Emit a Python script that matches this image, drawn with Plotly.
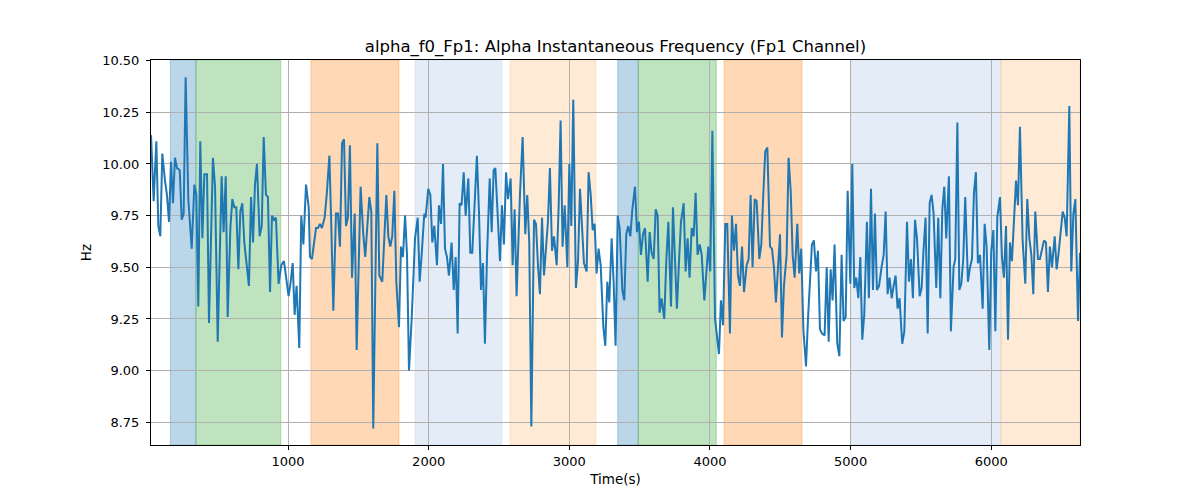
import plotly.graph_objects as go

time_s = [25.7, 44.6, 63.6, 77.8, 92, 106, 125, 139, 154, 168, 182, 196, 211, 230, 244, 258, 272, 291, 315, 334,
          348, 362, 376, 391, 405, 424, 438, 466, 481, 500, 528, 542, 557, 571, 590, 604, 618, 632, 647, 661,
          675, 689, 722, 737, 751, 765, 779, 798, 813, 827,
          843, 857, 872, 886, 900, 914, 933, 952, 971, 990, 1004, 1019, 1033, 1047, 1061, 1080, 1094, 1109, 1128, 1147,
          1156, 1170, 1199, 1213, 1227, 1241, 1260, 1275, 1294, 1308, 1322, 1341, 1355, 1369, 1384, 1398, 1412, 1426, 1440, 1455,
          1474, 1488, 1516, 1535, 1549, 1578, 1592, 1606, 1635, 1649,
          1670, 1699, 1713, 1727, 1741, 1756, 1770, 1789, 1803, 1817, 1832, 1846, 1860, 1879, 1903, 1922, 1936, 1950, 1969, 1978,
          1997, 2012, 2026, 2040, 2059, 2073, 2088, 2102, 2116, 2130, 2144, 2163, 2178, 2192, 2206, 2220, 2234, 2249, 2263, 2282,
          2296, 2310, 2325, 2343, 2358, 2372, 2386, 2400, 2415, 2434, 2448, 2462,
          2474, 2488, 2507, 2521, 2535, 2550, 2564, 2583, 2597, 2611, 2625, 2649, 2668, 2687, 2701, 2715, 2730, 2749, 2763, 2777,
          2791, 2806, 2820, 2834, 2848, 2862, 2877, 2891, 2910, 2924, 2938, 2952, 2967, 2986, 3000, 3014, 3028, 3047, 3062, 3076,
          3090, 3104, 3123, 3137, 3152, 3166, 3180, 3194, 3208, 3223, 3242, 3256, 3270, 3284,
          3301, 3315, 3329, 3344, 3358, 3377, 3391, 3405, 3419, 3434, 3448, 3467, 3481, 3495, 3509, 3524, 3538, 3557, 3571, 3585,
          3600, 3614, 3628, 3642, 3656, 3675, 3690, 3704, 3723, 3737, 3751, 3765, 3780, 3794, 3813, 3827, 3841, 3855, 3870, 3884,
          3898, 3912, 3927, 3941, 3960, 3974, 3988, 4002, 4017, 4036, 4050, 4064, 4078, 4093,
          4109, 4123, 4142, 4156, 4171, 4185, 4199, 4213, 4228, 4242, 4261, 4275, 4289, 4303, 4318, 4332, 4351, 4365, 4379, 4393,
          4408, 4427, 4441, 4455, 4469, 4483, 4498, 4512, 4526, 4545, 4559, 4574, 4588, 4602, 4621, 4635, 4649, 4664, 4683, 4697,
          4711, 4725, 4739, 4754, 4768, 4782, 4796, 4815, 4830, 4844, 4858, 4872, 4886, 4905, 4920,
          4936, 4950, 4965, 4979, 4998, 5012, 5026, 5040, 5055, 5069, 5083, 5097, 5116, 5130, 5145, 5159, 5173, 5187, 5202, 5220,
          5235, 5249, 5263, 5277, 5292, 5306, 5320, 5334, 5348, 5367, 5382, 5401, 5415, 5429, 5443, 5458, 5472, 5491, 5505, 5519,
          5533, 5548, 5562, 5576, 5590, 5609, 5623, 5638, 5652, 5666, 5680, 5699, 5713, 5732,
          5744, 5759, 5773, 5787, 5801, 5815, 5834, 5849, 5863, 5877, 5891, 5905, 5920, 5939, 5953, 5967, 5986, 6000, 6015, 6029,
          6043, 6062, 6076, 6090, 6105, 6119, 6133, 6147, 6161, 6176, 6190, 6204, 6223, 6242, 6256, 6271, 6285, 6299, 6313, 6332,
          6346, 6361, 6375, 6389, 6403, 6417, 6432, 6451, 6465, 6479, 6493, 6508, 6522, 6536, 6555, 6569, 6584, 6598, 6617, 6631]

freq_hz = [10.14, 9.82, 10.11, 9.70, 9.65, 10.05, 9.92, 9.85, 9.72, 10.01, 9.81, 10.03, 9.98, 9.97, 9.73, 9.76, 10.42, 9.83, 9.59, 9.90,
           9.85, 9.31, 10.11, 9.64, 9.95, 9.95, 9.23, 10.03, 9.89, 9.14, 9.94, 9.67, 9.94, 9.26, 9.69, 9.83, 9.79, 9.79, 9.49, 9.77,
           9.81, 9.62, 9.41, 9.84, 9.62, 9.90, 10.00, 9.65, 9.70, 10.13,
           9.85, 9.84, 9.38, 9.75, 9.73, 9.74, 9.42, 9.51, 9.53, 9.42, 9.36, 9.43, 9.52, 9.27, 9.41, 9.11, 9.75, 9.61, 9.90, 9.79,
           9.55, 9.54, 9.69, 9.69, 9.71, 9.69, 9.74, 9.85, 10.04, 9.69, 9.29, 9.76, 9.76, 9.60, 10.10, 10.12, 9.70, 9.74, 10.09, 9.45,
           9.76, 9.10, 9.89, 9.66, 9.55, 9.84, 9.77, 8.72, 10.10, 9.46,
           9.43, 9.85, 9.65, 9.60, 9.65, 9.87, 9.43, 9.21, 9.60, 9.55, 9.75, 9.56, 9.00, 9.25, 9.64, 9.74, 9.43, 9.56, 9.76, 9.74,
           9.88, 9.85, 9.62, 9.70, 9.51, 9.80, 9.71, 10.00, 9.59, 9.55, 9.46, 9.62, 9.39, 9.55, 9.18, 9.81, 9.80, 9.96, 9.75, 9.93,
           9.57, 9.57, 9.82, 10.04, 9.76, 9.39, 9.52, 9.13, 9.56, 9.93, 9.67, 9.97,
           9.98, 9.78, 9.53, 9.80, 9.61, 9.96, 9.83, 9.93, 9.51, 9.78, 9.36, 9.85, 10.13, 9.66, 9.85, 9.62, 8.73, 9.73, 9.71, 9.51,
           9.37, 9.74, 9.46, 9.59, 9.72, 9.98, 9.58, 9.65, 9.51, 9.79, 10.21, 9.60, 9.80, 9.50, 10.00, 9.70, 10.31, 9.40, 9.53, 9.88,
           9.67, 9.52, 9.48, 9.96, 9.85, 9.68, 9.71, 9.47, 9.59, 9.51, 9.21, 9.12, 9.43, 9.33,
           9.64, 9.43, 9.12, 9.75, 9.69, 9.39, 9.34, 9.66, 9.70, 9.65, 9.78, 9.89, 9.67, 9.72, 9.56, 9.66, 9.69, 9.43, 9.67, 9.57,
           9.54, 9.78, 9.75, 9.28, 9.35, 9.25, 9.54, 9.72, 9.31, 9.79, 9.54, 9.30, 9.53, 9.72, 9.81, 9.48, 9.64, 9.45, 9.69, 9.65,
           9.86, 9.56, 9.61, 9.56, 9.34, 9.49, 9.60, 9.48, 10.16, 9.25, 9.15, 9.08, 9.34, 9.22,
           9.71, 9.71, 9.18, 9.75, 9.58, 9.71, 9.46, 9.41, 9.60, 9.38, 9.51, 9.54, 9.85, 9.50, 9.83, 9.82, 9.54, 9.61, 9.85, 10.06,
           10.08, 9.60, 9.59, 9.50, 9.33, 9.47, 9.66, 9.16, 9.41, 9.56, 10.03, 9.87, 9.56, 9.45, 9.71, 9.47, 9.59, 9.20, 9.02, 9.25,
           9.43, 9.61, 9.63, 9.48, 9.58, 9.20, 9.18, 9.17, 9.50, 9.14, 9.49, 9.34, 9.61, 9.13, 9.07,
           9.56, 9.24, 9.26, 9.87, 9.42, 10.00, 9.40, 9.45, 9.35, 9.55, 9.15, 9.27, 9.72, 9.35, 9.88, 9.39, 9.76, 9.39, 9.41, 9.50,
           9.56, 9.77, 9.37, 9.45, 9.35, 9.41, 9.46, 9.30, 9.35, 9.13, 9.19, 9.72, 9.43, 9.54, 9.35, 9.73, 9.64, 9.36, 9.40, 9.59,
           9.74, 9.18, 9.81, 9.85, 9.76, 9.40, 9.74, 9.35, 9.78, 9.89, 9.64, 9.94, 9.19, 9.50,
           9.54, 10.20, 9.39, 9.42, 9.54, 9.84, 9.43, 9.50, 9.54, 9.86, 9.96, 9.52, 9.56, 9.30, 9.71, 9.60, 9.10, 9.58, 9.68, 9.19,
           9.74, 9.84, 9.55, 9.45, 9.70, 9.15, 9.62, 9.53, 9.72, 9.92, 9.80, 10.18, 9.63, 9.42, 9.83, 9.64, 9.56, 9.37, 9.77, 9.54,
           9.54, 9.59, 9.63, 9.62, 9.38, 9.60, 9.50, 9.65, 9.49, 9.57, 9.67, 9.77, 9.74, 9.65, 10.28, 9.48, 9.76, 9.83, 9.24, 9.57]

span_start = [163, 345, 1163, 1903, 2578, 3344, 3490, 4100, 5007, 6069]
span_end = [345, 948, 1789, 2521, 3189, 3490, 4045, 4654, 6069, 6700]
span_kind = ["blue", "green", "orange", "lightblue", "lightorange",
             "blue", "green", "orange", "lightblue", "lightorange"]

x_ticks = [1000, 2000, 3000, 4000, 5000, 6000]
y_ticks = [8.75, 9.00, 9.25, 9.50, 9.75, 10.00, 10.25, 10.50]

kind_color = {
    "blue": "rgba(31,119,180,0.3)",
    "green": "rgba(44,160,44,0.3)",
    "orange": "rgba(255,127,14,0.3)",
    "lightblue": "rgba(174,199,232,0.33)",
    "lightorange": "rgba(255,187,120,0.3)",
}

x_min, x_max = time_s[0], time_s[-1]

shapes = []
for s, e, k in zip(span_start, span_end, span_kind):
    shapes.append(dict(type="rect", xref="x", yref="paper", x0=s, x1=min(e, x_max),
                       y0=0, y1=1, fillcolor=kind_color[k],
                       line=dict(width=1, color=kind_color[k]), layer="below"))

fig = go.Figure()
fig.add_trace(go.Scatter(x=time_s, y=freq_hz, mode="lines",
                         line=dict(color="#1f77b4", width=2), showlegend=False))

font_family = "DejaVu Sans, Liberation Sans, sans-serif"
fig.update_layout(
    width=1200, height=500,
    margin=dict(l=151, r=120, t=60, b=55, autoexpand=False),
    paper_bgcolor="white", plot_bgcolor="white",
    shapes=shapes,
    font=dict(family=font_family, size=13, color="black"),
    title=dict(text="alpha_f0_Fp1: Alpha Instantaneous Frequency (Fp1 Channel)",
               x=(151 + 1080) / 2 / 1200, xanchor="center", y=1 - 46 / 500, yanchor="middle",
               automargin=False,
               font=dict(size=16.5, family=font_family, color="black")),
)
fig.update_xaxes(range=[x_min, x_max], tickvals=x_ticks, ticktext=[str(v) for v in x_ticks],
                 automargin=False,
                 showgrid=True, gridcolor="#b0b0b0", gridwidth=1,
                 showline=True, linecolor="black", linewidth=1, mirror=True,
                 ticks="outside", ticklen=4, tickcolor="black", zeroline=False,
                 title=dict(text="Time(s)", font=dict(size=13.5), standoff=6),
                 tickfont=dict(size=13))
fig.update_yaxes(range=[8.64, 10.503], tickvals=y_ticks, ticktext=[f"{v:.2f}" for v in y_ticks],
                 automargin=False,
                 showgrid=True, gridcolor="#b0b0b0", gridwidth=1,
                 showline=True, linecolor="black", linewidth=1, mirror=True,
                 ticks="outside", ticklen=4, tickcolor="black", zeroline=False,
                 ticklabelstandoff=4,
                 title=dict(text="Hz", font=dict(size=13.5), standoff=7),
                 tickfont=dict(size=13))

fig.write_html("out.html", config={"displayModeBar": False},
               post_script="document.body.style.margin='0';document.body.style.padding='0';")
